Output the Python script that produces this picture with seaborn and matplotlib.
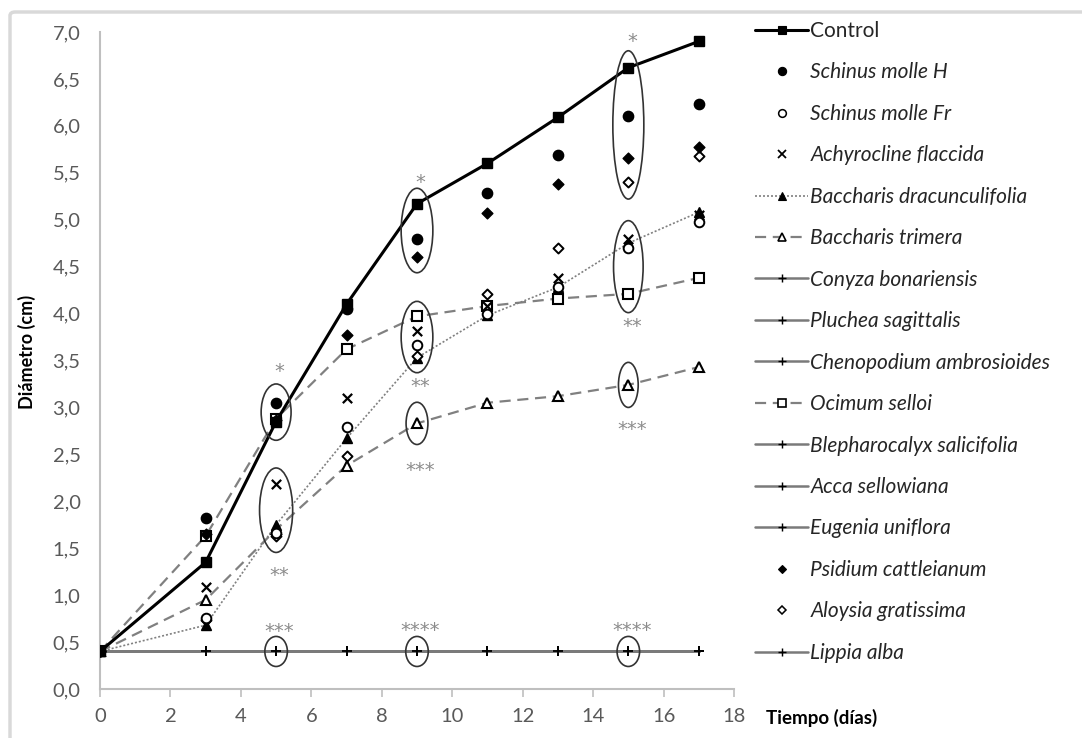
import numpy as np
import pandas as pd
import matplotlib
matplotlib.use("Agg")
import matplotlib.pyplot as plt
import seaborn as sns
from matplotlib.patches import Ellipse, FancyBboxPatch
from matplotlib.lines import Line2D
from matplotlib.ticker import FuncFormatter, MultipleLocator

# ---------------- data ----------------
days = [0, 3, 5, 7, 9, 11, 13, 15, 17]

control = [0.40, 1.35, 2.85, 4.10, 5.17, 5.60, 6.09, 6.62, 6.90]
schinus_h = [0.40, 1.82, 3.05, 4.05, 4.79, 5.28, 5.69, 6.10, 6.23]
schinus_fr = [0.40, 0.76, 1.66, 2.79, 3.67, 4.00, 4.28, 4.70, 4.98]
achyrocline = [0.40, 1.09, 2.18, 3.10, 3.81, 4.08, 4.38, 4.79, 5.05]
bacch_drac = [0.40, 0.68, 1.75, 2.67, 3.53, 3.98, 4.28, 4.75, 5.08]
bacch_trimera = [0.40, 0.95, 1.70, 2.38, 2.83, 3.05, 3.12, 3.24, 3.43]
conyza = [0.40, 0.40, 0.40, 0.40, 0.40, 0.40, 0.40, 0.40, 0.40]
pluchea = [0.40, 0.40, 0.40, 0.40, 0.40, 0.40, 0.40, 0.40, 0.40]
chenopodium = [0.40, 0.40, 0.40, 0.40, 0.40, 0.40, 0.40, 0.40, 0.40]
ocimum = [0.40, 1.63, 2.88, 3.62, 3.97, 4.08, 4.16, 4.21, 4.38]
blepharocalyx = [0.40, 0.40, 0.40, 0.40, 0.40, 0.40, 0.40, 0.40, 0.40]
acca = [0.40, 0.40, 0.40, 0.40, 0.40, 0.40, 0.40, 0.40, 0.40]
eugenia = [0.40, 0.40, 0.40, 0.40, 0.40, 0.40, 0.40, 0.40, 0.40]
psidium = [0.40, 1.65, 2.87, 3.77, 4.60, 5.07, 5.38, 5.66, 5.78]
aloysia = [0.40, 0.73, 1.63, 2.48, 3.55, 4.21, 4.70, 5.40, 5.68]
lippia = [0.40, 0.40, 0.40, 0.40, 0.40, 0.40, 0.40, 0.40, 0.40]

series_names = [
    "Control", "Schinus molle H", "Schinus molle Fr", "Achyrocline flaccida",
    "Baccharis dracunculifolia", "Baccharis trimera", "Conyza bonariensis",
    "Pluchea sagittalis", "Chenopodium ambrosioides", "Ocimum selloi",
    "Blepharocalyx salicifolia", "Acca sellowiana", "Eugenia uniflora",
    "Psidium cattleianum", "Aloysia gratissima", "Lippia alba",
]
series_values = [
    control, schinus_h, schinus_fr, achyrocline, bacch_drac, bacch_trimera,
    conyza, pluchea, chenopodium, ocimum, blepharocalyx, acca, eugenia,
    psidium, aloysia, lippia,
]

# significance groups (day, members) -> ellipse + asterisks
sig_days = [5, 5, 5, 9, 9, 9, 9, 15, 15, 15, 15]
sig_members = [
    ["Control", "Schinus molle H"],
    ["Achyrocline flaccida", "Baccharis dracunculifolia", "Schinus molle Fr", "Aloysia gratissima"],
    ["Lippia alba"],
    ["Control", "Schinus molle H", "Psidium cattleianum"],
    ["Ocimum selloi", "Achyrocline flaccida", "Schinus molle Fr", "Baccharis dracunculifolia"],
    ["Baccharis trimera"],
    ["Lippia alba"],
    ["Control", "Schinus molle H", "Psidium cattleianum", "Aloysia gratissima"],
    ["Achyrocline flaccida", "Schinus molle Fr", "Baccharis dracunculifolia", "Ocimum selloi"],
    ["Baccharis trimera"],
    ["Lippia alba"],
]
sig_labels = ["*", "**", "***", "*", "**", "***", "****", "*", "**", "***", "****"]

# ---------------- long-form table ----------------
df = pd.DataFrame(
    [(n, d, v) for n, vals in zip(series_names, series_values) for d, v in zip(days, vals)],
    columns=["serie", "dia", "diametro"],
)

# ---------------- styles ----------------
GRAY = "#808080"
flat = dict(kind="line", color="#7a7a7a", ls="-", lw=1.8, marker="+", ms=7,
            mfc="black", mec="black", mew=1.3)
styles = {
    "Control": dict(kind="line", color="black", ls="-", lw=2.2, marker="s", ms=7.5,
                    mfc="black", mec="black", mew=1),
    "Schinus molle H": dict(kind="dot", marker="o", s=55, fc="black", ec="black", lw=1),
    "Schinus molle Fr": dict(kind="dot", marker="o", s=48, fc="white", ec="black", lw=1.4),
    "Achyrocline flaccida": dict(kind="dot", marker="x", s=45, fc="black", ec="black", lw=1.6),
    "Baccharis dracunculifolia": dict(kind="line", color=GRAY, ls=(0, (1.2, 1.2)), lw=1.2,
                                      marker="^", ms=7, mfc="black", mec="black", mew=1),
    "Baccharis trimera": dict(kind="line", color=GRAY, ls=(0, (5, 3)), lw=1.6,
                              marker="^", ms=7, mfc="white", mec="black", mew=1.5),
    "Ocimum selloi": dict(kind="line", color=GRAY, ls=(0, (5, 3)), lw=1.6,
                          marker="s", ms=7, mfc="white", mec="black", mew=1.5),
    "Psidium cattleianum": dict(kind="dot", marker="D", s=30, fc="black", ec="black", lw=1),
    "Aloysia gratissima": dict(kind="dot", marker="D", s=26, fc="white", ec="black", lw=1.4),
}
for n in ["Conyza bonariensis", "Pluchea sagittalis", "Chenopodium ambrosioides",
          "Blepharocalyx salicifolia", "Acca sellowiana", "Eugenia uniflora", "Lippia alba"]:
    styles[n] = flat

# ellipse layout: width (days), vertical padding, asterisk side and gap
ell_w = [0.85, 0.94, 0.64, 0.9, 0.9, 0.62, 0.64, 0.88, 0.84, 0.56, 0.64]
ell_pad = [0.20, 0.175, 0.16, 0.165, 0.16, 0.225, 0.16, 0.18, 0.20, 0.24, 0.16]
star_side = [1, -1, 1, 1, -1, -1, 1, 1, -1, -1, 1]
star_gap = [0.19, 0.19, 0.11, 0.12, 0.09, 0.22, 0.12, 0.16, 0.09, 0.18, 0.12]

sns.set_theme(style="white")
plt.rcParams["font.family"] = ["Lato", "DejaVu Sans"]

W, H = 1082, 738
fig = plt.figure(figsize=(W / 100, H / 100), dpi=100)
ax = fig.add_axes([100 / W, 1 - 689 / H, 634 / W, 657 / H])

draw_order = ["Conyza bonariensis", "Pluchea sagittalis", "Chenopodium ambrosioides",
              "Blepharocalyx salicifolia", "Acca sellowiana", "Eugenia uniflora", "Lippia alba",
              "Baccharis trimera", "Ocimum selloi", "Baccharis dracunculifolia",
              "Aloysia gratissima", "Schinus molle Fr", "Achyrocline flaccida",
              "Psidium cattleianum", "Schinus molle H", "Control"]

for name in draw_order:
    st = styles[name]
    sub = df[df["serie"] == name]
    if st["kind"] == "line":
        sns.lineplot(data=sub, x="dia", y="diametro", ax=ax, color=st["color"],
                     linestyle=st["ls"], linewidth=st["lw"], marker=st["marker"],
                     markersize=st["ms"], markerfacecolor=st["mfc"],
                     markeredgecolor=st["mec"], markeredgewidth=st["mew"],
                     estimator=None, sort=False, legend=False, zorder=3)
    else:
        sns.scatterplot(data=sub, x="dia", y="diametro", ax=ax, marker=st["marker"],
                        s=st["s"], color=st["fc"], edgecolor=st["ec"],
                        linewidth=st["lw"], legend=False, zorder=4)

# ellipses + asterisks
lookup = dict(zip(series_names, series_values))
for d, mem, lab, w, pad, side, gap in zip(sig_days, sig_members, sig_labels,
                                           ell_w, ell_pad, star_side, star_gap):
    i = days.index(d)
    vals = [lookup[m][i] for m in mem]
    lo, hi = min(vals), max(vals)
    cy = (lo + hi) / 2
    h = (hi - lo) + 2 * pad
    ax.add_patch(Ellipse((d, cy), w, h, fill=False, edgecolor="#333333", lw=1.2, zorder=5))
    star_center = cy + side * (h / 2 + gap)
    # '*' glyph sits ~0.6 em above the baseline
    ax.text(d + 0.1, star_center - 0.115, lab, ha="center", va="baseline",
            color="#8c8c8c", fontsize=14, family="DejaVu Sans", zorder=6)

# axes formatting
ax.set_xlim(0, 18)
ax.set_ylim(0, 7)
ax.xaxis.set_major_locator(MultipleLocator(2))
ax.yaxis.set_major_locator(MultipleLocator(0.5))
ax.yaxis.set_major_formatter(FuncFormatter(lambda v, p: f"{v:.1f}".replace(".", ",")))
ax.xaxis.set_major_formatter(FuncFormatter(lambda v, p: f"{v:.0f}"))
ax.set_xlabel("")
ax.set_ylabel("")
for s in ["top", "right"]:
    ax.spines[s].set_visible(False)
for s in ["left", "bottom"]:
    ax.spines[s].set_color("#bfbfbf")
    ax.spines[s].set_linewidth(1.5)
ax.tick_params(axis="x", bottom=True, length=6, width=1.2, color="#bfbfbf", pad=8,
               labelsize=14.5, labelcolor="#595959")
ax.tick_params(axis="y", left=False, length=0, pad=14, labelsize=14.5, labelcolor="#595959")
ax.set_facecolor("white")

fig.text(27 / W, 1 - 352 / H, "Diámetro (cm)", rotation=90, ha="center", va="center",
         fontsize=13, fontweight="bold", color="black")
fig.text(766 / W, 1 - 718 / H, "Tiempo (días)", ha="left", va="center",
         fontsize=13.5, fontweight="bold", color="black")

# legend
handles = []
for name in series_names:
    st = styles[name]
    if st["kind"] == "line":
        handles.append(Line2D([], [], color=st["color"], linestyle=st["ls"], linewidth=st["lw"],
                              marker=st["marker"], markersize=st["ms"] * 0.8,
                              markerfacecolor=st["mfc"], markeredgecolor=st["mec"],
                              markeredgewidth=st["mew"] * 0.8))
    else:
        handles.append(Line2D([], [], linestyle="none", marker=st["marker"],
                              markersize=np.sqrt(st["s"]) * 0.8, markerfacecolor=st["fc"],
                              markeredgecolor=st["ec"], markeredgewidth=st["lw"] * 0.8))
leg = fig.legend(handles, series_names, loc="upper left", bbox_to_anchor=(755 / W, 1 - 21 / H),
                 frameon=False, fontsize=15, handlelength=2.55, handletextpad=0.1,
                 labelspacing=1.03, borderpad=0, borderaxespad=0)
for t in leg.get_texts():
    t.set_color("#262626")
    if t.get_text() != "Control":
        t.set_fontstyle("italic")

# outer chart border
fig.patches.append(FancyBboxPatch((10 / W, -0.05), 1.2, 1 - 12 / H + 0.05,
                                  boxstyle="round,pad=0,rounding_size=0.005",
                                  transform=fig.transFigure, fill=False,
                                  edgecolor="#d9d9d9", lw=2.5, figure=fig))

fig.savefig("out.png", dpi=100, facecolor="white")
